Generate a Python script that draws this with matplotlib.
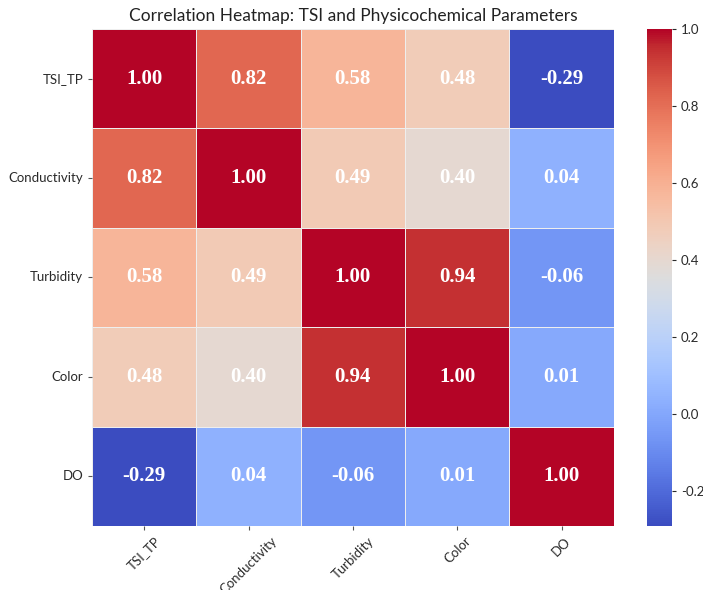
import matplotlib
matplotlib.use("Agg")
import matplotlib.pyplot as plt
import numpy as np
import pandas as pd
import seaborn as sns

labels = ["TSI_TP", "Conductivity", "Turbidity", "Color", "DO"]
row_tsi_tp = [1.00, 0.82, 0.58, 0.48, -0.29]
row_conductivity = [0.82, 1.00, 0.49, 0.40, 0.04]
row_turbidity = [0.58, 0.49, 1.00, 0.94, -0.06]
row_color = [0.48, 0.40, 0.94, 1.00, 0.01]
row_do = [-0.29, 0.04, -0.06, 0.01, 1.00]
cbar_ticks = [-0.2, 0.0, 0.2, 0.4, 0.6, 0.8, 1.0]

corr = pd.DataFrame(
    [row_tsi_tp, row_conductivity, row_turbidity, row_color, row_do],
    index=labels, columns=labels,
)

plt.rcParams["font.family"] = ["Lato", "DejaVu Sans"]

fig = plt.figure(figsize=(7.03, 5.90), dpi=100)
ax = fig.add_axes([0.131, 0.1085, 0.742, 0.8425])
cax = fig.add_axes([0.920, 0.1085, 0.0356, 0.8425])

sns.heatmap(
    corr, ax=ax, cbar_ax=cax, cmap="coolwarm",
    vmin=min(map(min, corr.values)), vmax=1.0,
    annot=True, fmt=".2f", linewidths=0.5, linecolor="#eeeeee",
    annot_kws={"family": "Liberation Serif", "weight": "bold",
               "size": 15, "color": "white"},
)

ax.set_title("Correlation Heatmap: TSI and Physicochemical Parameters",
             fontsize=12.5, color="#222222", pad=6)
ax.set_xticklabels(labels, rotation=45, ha="center", fontsize=9.5, color="#2a2a2a")
ax.set_yticklabels(labels, rotation=0, fontsize=9.5, color="#2a2a2a")
ax.tick_params(length=3, color="#555555")

cax.set_yticks(cbar_ticks)
cax.set_yticklabels([f"{t:.1f}" for t in cbar_ticks])
cax.tick_params(labelsize=9.5, length=3, colors="#2a2a2a")

fig.savefig("out.png", dpi=100, facecolor="white")
